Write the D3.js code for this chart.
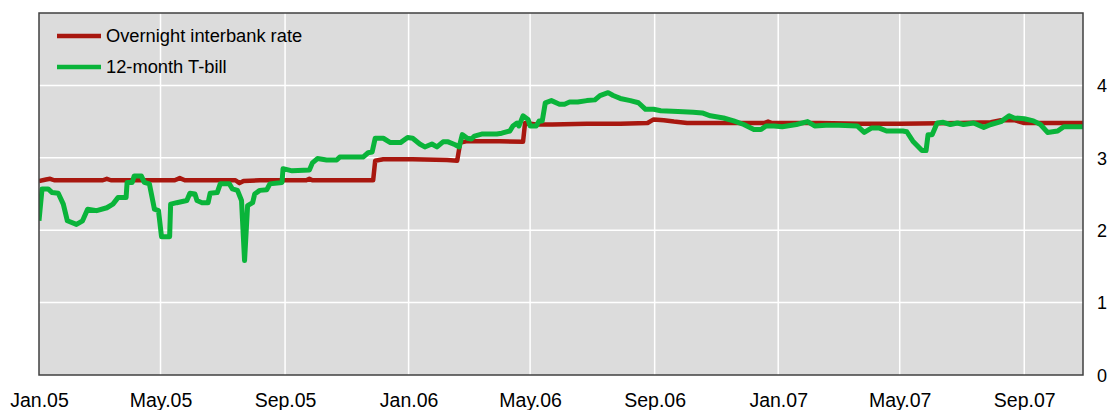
<!DOCTYPE html>
<html>
<head>
<meta charset="utf-8">
<script src="https://cdn.jsdelivr.net/npm/d3@7"></script>
<style>
  html, body { margin: 0; padding: 0; background: #ffffff; }
  svg { display: block; font-family: "Liberation Sans", Arial, sans-serif; }
</style>
</head>
<body>
<svg id="chart" width="1107" height="410"></svg>
<script>
// ---- Data ----
const seriesNames = ["Overnight interbank rate", "12-month T-bill"];
const seriesColors = ["#a8170f", "#0ab43a"];

const overnightDates = [
  "2005-01-01","2005-01-08","2005-01-12","2005-01-16","2005-02-10","2005-03-05","2005-03-09",
  "2005-03-13","2005-05-15","2005-05-20","2005-05-25","2005-07-14","2005-07-18","2005-07-22",
  "2005-08-07","2005-09-22","2005-09-25","2005-09-28","2005-11-27","2005-11-29","2005-12-07",
  "2006-01-05","2006-02-08","2006-02-18","2006-02-21","2006-02-28","2006-04-01","2006-04-24",
  "2006-04-26","2006-05-07","2006-05-23","2006-06-26","2006-07-29","2006-08-25","2006-08-31",
  "2006-09-10","2006-09-20","2006-10-03","2006-11-05","2006-12-08","2006-12-18","2006-12-22",
  "2006-12-26","2007-02-11","2007-03-22","2007-05-01","2007-06-29","2007-07-30","2007-08-09",
  "2007-08-22","2007-09-01","2007-10-29"
];
const overnightValues = [
  2.68, 2.70, 2.71, 2.69, 2.69, 2.69, 2.71,
  2.69, 2.69, 2.72, 2.69, 2.69, 2.65, 2.68,
  2.69, 2.69, 2.71, 2.69, 2.69, 2.96, 2.98,
  2.98, 2.97, 2.96, 3.21, 3.23, 3.23, 3.22,
  3.48, 3.46, 3.46, 3.47, 3.47, 3.48, 3.53,
  3.52, 3.50, 3.48, 3.48, 3.48, 3.48, 3.50,
  3.48, 3.48, 3.47, 3.47, 3.48, 3.49, 3.52,
  3.52, 3.48, 3.48
];

const tbillDates = [
  "2005-01-01","2005-01-04","2005-01-10","2005-01-14","2005-01-20","2005-01-25","2005-01-29",
  "2005-02-07","2005-02-13","2005-02-18","2005-02-27","2005-03-09","2005-03-15","2005-03-20",
  "2005-03-28","2005-03-29","2005-04-03","2005-04-05","2005-04-12","2005-04-15","2005-04-20",
  "2005-04-25","2005-04-29","2005-05-02","2005-05-10","2005-05-11","2005-05-17","2005-05-27",
  "2005-05-30","2005-06-04","2005-06-06","2005-06-11","2005-06-17","2005-06-19","2005-06-26",
  "2005-06-29","2005-07-08","2005-07-11","2005-07-16","2005-07-20","2005-07-23","2005-07-26",
  "2005-07-31","2005-08-02","2005-08-07","2005-08-14","2005-08-17","2005-08-29","2005-08-30",
  "2005-09-08","2005-09-25","2005-09-28","2005-10-03","2005-10-12","2005-10-22","2005-10-25",
  "2005-11-17","2005-11-22","2005-11-26","2005-11-29","2005-12-07","2005-12-14","2005-12-24",
  "2005-12-31","2006-01-05","2006-01-12","2006-01-17","2006-01-24","2006-01-29","2006-02-04",
  "2006-02-09","2006-02-16","2006-02-20","2006-02-23","2006-02-28","2006-03-04","2006-03-07",
  "2006-03-15","2006-03-29","2006-04-03","2006-04-11","2006-04-14","2006-04-18","2006-04-20",
  "2006-04-24","2006-04-29","2006-05-01","2006-05-07","2006-05-10","2006-05-13","2006-05-16",
  "2006-05-22","2006-05-30","2006-06-04","2006-06-09","2006-06-17","2006-06-26","2006-07-04",
  "2006-07-09","2006-07-17","2006-07-22","2006-07-29","2006-08-08","2006-08-16","2006-08-23",
  "2006-08-31","2006-09-07","2006-09-24","2006-10-09","2006-10-18","2006-10-26","2006-11-08",
  "2006-11-18","2006-11-28","2006-12-08","2006-12-15","2006-12-20","2006-12-28","2007-01-05",
  "2007-01-19","2007-01-30","2007-02-06","2007-02-17","2007-03-02","2007-03-20","2007-03-27",
  "2007-04-03","2007-04-11","2007-04-18","2007-05-04","2007-05-08","2007-05-14","2007-05-23",
  "2007-05-27","2007-05-29","2007-06-02","2007-06-07","2007-06-13","2007-06-20","2007-06-27",
  "2007-07-03","2007-07-13","2007-07-23","2007-07-30","2007-08-09","2007-08-17","2007-08-22",
  "2007-09-01","2007-09-10","2007-09-17","2007-09-24","2007-10-04","2007-10-10","2007-10-29"
];
const tbillValues = [
  2.13, 2.57, 2.57, 2.52, 2.51, 2.36, 2.13,
  2.08, 2.13, 2.29, 2.27, 2.31, 2.36, 2.45,
  2.45, 2.66, 2.66, 2.75, 2.75, 2.66, 2.64,
  2.29, 2.27, 1.91, 1.91, 2.36, 2.38, 2.41,
  2.51, 2.50, 2.41, 2.38, 2.38, 2.51, 2.52,
  2.64, 2.64, 2.57, 2.55, 2.41, 1.58, 2.34,
  2.38, 2.50, 2.55, 2.56, 2.64, 2.66, 2.85,
  2.82, 2.83, 2.93, 2.99, 2.97, 2.97, 3.01,
  3.01, 3.07, 3.08, 3.27, 3.27, 3.21, 3.21,
  3.28, 3.27, 3.19, 3.15, 3.19, 3.15, 3.22,
  3.22, 3.18, 3.15, 3.32, 3.27, 3.26, 3.30,
  3.33, 3.33, 3.34, 3.37, 3.44, 3.48, 3.44,
  3.58, 3.53, 3.44, 3.44, 3.51, 3.51, 3.76,
  3.79, 3.74, 3.74, 3.77, 3.77, 3.79, 3.80,
  3.86, 3.90, 3.86, 3.82, 3.79, 3.76, 3.67,
  3.67, 3.65, 3.64, 3.63, 3.62, 3.58, 3.55,
  3.51, 3.46, 3.39, 3.39, 3.44, 3.44, 3.43,
  3.46, 3.50, 3.44, 3.45, 3.45, 3.44, 3.35,
  3.41, 3.41, 3.37, 3.37, 3.36, 3.23, 3.10,
  3.10, 3.32, 3.32, 3.48, 3.49, 3.46, 3.48,
  3.46, 3.48, 3.42, 3.46, 3.50, 3.58, 3.55,
  3.54, 3.51, 3.46, 3.35, 3.37, 3.43, 3.43
];

const xTickDates = ["2005-01-01","2005-05-01","2005-09-01","2006-01-01","2006-05-01",
                    "2006-09-01","2007-01-01","2007-05-01","2007-09-01"];
const xTickLabels = ["Jan.05","May.05","Sep.05","Jan.06","May.06","Sep.06","Jan.07","May.07","Sep.07"];
const yTicks = [0, 1, 2, 3, 4];
const xDomain = ["2005-01-01", "2007-10-29"];
const yDomain = [0, 5];

// ---- Chart ----
const parse = d3.timeParse("%Y-%m-%d");
const svg = d3.select("#chart");
const plot = { left: 39, right: 1083, top: 13, bottom: 375 };

const x = d3.scaleTime().domain(xDomain.map(parse)).range([plot.left, plot.right]);
const y = d3.scaleLinear().domain(yDomain).range([plot.bottom, plot.top]);

svg.append("rect")
  .attr("x", plot.left).attr("y", plot.top)
  .attr("width", plot.right - plot.left).attr("height", plot.bottom - plot.top)
  .attr("fill", "#dcdcdc");

// gridlines
const grid = svg.append("g").attr("stroke", "#ffffff").attr("stroke-width", 1.5);
grid.selectAll("line.h").data(yTicks.filter(v => v > 0)).join("line")
  .attr("x1", plot.left).attr("x2", plot.right)
  .attr("y1", d => y(d)).attr("y2", d => y(d));
grid.selectAll("line.v").data(xTickDates.slice(1).map(parse)).join("line")
  .attr("y1", plot.top).attr("y2", plot.bottom)
  .attr("x1", d => x(d)).attr("x2", d => x(d));

// lines
svg.append("clipPath").attr("id", "clip").append("rect")
  .attr("x", plot.left).attr("y", plot.top)
  .attr("width", plot.right - plot.left).attr("height", plot.bottom - plot.top);

const line = d3.line().x(d => x(d[0])).y(d => y(d[1]));
const series = [
  overnightDates.map((d, i) => [parse(d), overnightValues[i]]),
  tbillDates.map((d, i) => [parse(d), tbillValues[i]])
];
svg.append("g").attr("clip-path", "url(#clip)")
  .selectAll("path").data(series).join("path")
  .attr("d", line)
  .attr("fill", "none")
  .attr("stroke", (d, i) => seriesColors[i])
  .attr("stroke-width", (d, i) => i === 0 ? 4.5 : 5)
  .attr("stroke-linejoin", "round")
  .attr("stroke-linecap", "butt");

// frame
svg.append("rect")
  .attr("x", plot.left).attr("y", plot.top)
  .attr("width", plot.right - plot.left).attr("height", plot.bottom - plot.top)
  .attr("fill", "none").attr("stroke", "#404040").attr("stroke-width", 1.5);

// x axis labels
const xAxis = d3.axisBottom(x)
  .tickValues(xTickDates.map(parse))
  .tickFormat((d, i) => xTickLabels[i])
  .tickSize(0).tickPadding(0);
const gx = svg.append("g").attr("transform", `translate(0,${plot.bottom})`).call(xAxis);
gx.select(".domain").remove();
gx.selectAll("text")
  .attr("y", 32).attr("dy", 0)
  .attr("fill", "#000").style("font-size", "19.5px")
  .style("font-family", '"Liberation Sans", Arial, sans-serif');

// y axis labels (right)
const yAxis = d3.axisRight(y).tickValues(yTicks).tickFormat(d3.format("d")).tickSize(0).tickPadding(0);
const gy = svg.append("g").attr("transform", `translate(${plot.right + 14},0)`).call(yAxis);
gy.select(".domain").remove();
gy.selectAll("text")
  .attr("x", 0).attr("dy", "0.35em")
  .attr("fill", "#000").style("font-size", "18px")
  .style("font-family", '"Liberation Sans", Arial, sans-serif');

// legend
const legend = svg.append("g");
seriesNames.forEach((name, i) => {
  const ly = 36 + i * 31;
  legend.append("line").attr("x1", 57).attr("x2", 101).attr("y1", ly).attr("y2", ly)
    .attr("stroke", seriesColors[i]).attr("stroke-width", 4.5);
  legend.append("text").attr("x", 106).attr("y", ly).attr("dy", "0.35em")
    .style("font-size", "18.3px").attr("fill", "#000").text(name);
});
</script>
</body>
</html>
